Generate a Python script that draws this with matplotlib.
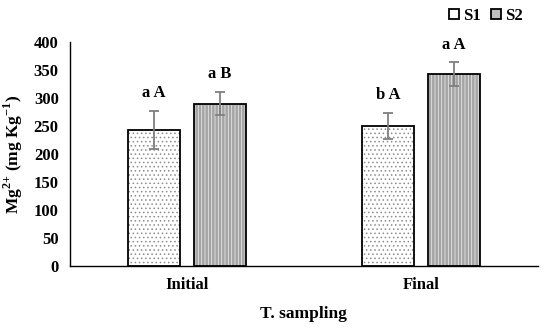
import numpy as np
import matplotlib.pyplot as plt

plt.rcParams['font.family'] = ['Liberation Serif', 'DejaVu Serif']
plt.rcParams['font.weight'] = 'bold'
plt.rcParams['mathtext.fontset'] = 'custom'
plt.rcParams['mathtext.rm'] = 'Liberation Serif:bold'
plt.rcParams['mathtext.bf'] = 'Liberation Serif:bold'
plt.rcParams['hatch.linewidth'] = 0.6

# 数据
categories = ['Initial', 'Final']
s1_mean = [243, 250]
s1_err = [34, 24]
s2_mean = [290, 343]
s2_err = [21, 21]
s1_labels = ['a A', 'b A']
s2_labels = ['a B', 'a A']

x = np.arange(len(categories))
w = 0.222
off = 0.141

fig = plt.figure(figsize=(5.5, 3.36), dpi=100)
ax = fig.add_axes([0.127, 0.208, 0.851, 0.667])

# 先画纹理, 再画黑色边框
ax.bar(x - off, s1_mean, w, color='white', edgecolor='#8c8c8c', linewidth=0,
       hatch='....', zorder=2)
ax.bar(x + off, s2_mean, w, color='#a4a4a4', edgecolor='#e8e8e8', linewidth=0,
       hatch='|||||', zorder=2)
ax.bar(x - off, s1_mean, w, color='none', edgecolor='black', linewidth=1.3,
       label='S1', zorder=2.5)
ax.bar(x + off, s2_mean, w, color='none', edgecolor='black', linewidth=1.3, zorder=2.5)
# 图例用的假句柄
ax.bar([0], [0], 0, color='#c0c0c0', edgecolor='black', linewidth=1.3, label='S2')
ax.errorbar(x - off, s1_mean, yerr=s1_err, fmt='none', ecolor='#7f7f7f',
            elinewidth=1.3, capsize=3.5, capthick=1.3, zorder=3)
ax.errorbar(x + off, s2_mean, yerr=s2_err, fmt='none', ecolor='#7f7f7f',
            elinewidth=1.3, capsize=3.5, capthick=1.3, zorder=3)

# 字母标注
for i in range(len(categories)):
    ax.text(x[i] - off, s1_mean[i] + s1_err[i] + 17, s1_labels[i],
            ha='center', va='bottom', fontsize=12, fontweight='bold')
    ax.text(x[i] + off, s2_mean[i] + s2_err[i] + 17, s2_labels[i],
            ha='center', va='bottom', fontsize=12, fontweight='bold')

ax.set_xlim(-0.5, 1.5)
ax.set_ylim(0, 400)
ax.set_yticks(np.arange(0, 401, 50))
ax.set_xticks(x)
ax.set_xticklabels(categories)
ax.tick_params(axis='y', length=0, labelsize=12, pad=8)
ax.tick_params(axis='x', length=0, labelsize=12, pad=8)
for lab in ax.get_xticklabels() + ax.get_yticklabels():
    lab.set_fontweight('bold')

ax.spines['top'].set_visible(False)
ax.spines['right'].set_visible(False)
ax.spines['left'].set_linewidth(1.0)
ax.spines['bottom'].set_linewidth(1.0)

ax.set_xlabel('T. sampling', fontsize=12.5, fontweight='bold', labelpad=9)
ax.set_ylabel(r'Mg$^{2{+}}$ (mg Kg$^{{-}1}$)', fontsize=12.5, fontweight='bold', labelpad=6)

leg = ax.legend(loc='upper right', bbox_to_anchor=(1.0, 1.22), ncol=2, frameon=False,
                fontsize=12, handlelength=0.6, handleheight=0.6, handletextpad=0.25,
                columnspacing=0.6)

fig.savefig('out.png', dpi=100)
